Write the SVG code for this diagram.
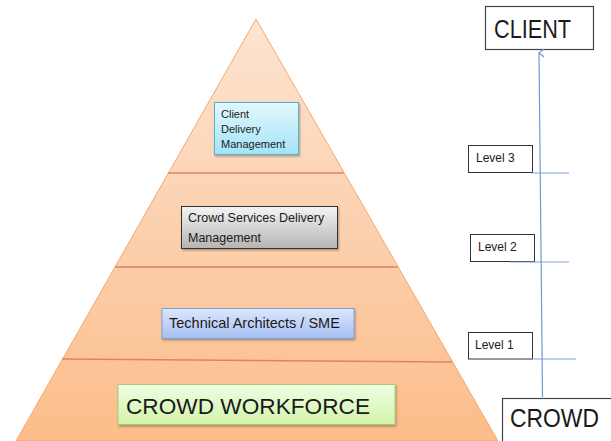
<svg xmlns="http://www.w3.org/2000/svg" width="611" height="441" viewBox="0 0 611 441">
<defs>
<linearGradient id="gPyr" x1="0" y1="0" x2="0" y2="1">
<stop offset="0" stop-color="#fde4d2"/>
<stop offset="0.5" stop-color="#fcd0ae"/>
<stop offset="1" stop-color="#fbbd8a"/>
</linearGradient>
<linearGradient id="gCyan" x1="0" y1="0" x2="0" y2="1">
<stop offset="0" stop-color="#e3f7fd"/>
<stop offset="1" stop-color="#a3e4f7"/>
</linearGradient>
<linearGradient id="gGray" x1="0" y1="0" x2="0" y2="1">
<stop offset="0" stop-color="#f4f4f4"/>
<stop offset="1" stop-color="#b5b5b5"/>
</linearGradient>
<linearGradient id="gBlue" x1="0" y1="0" x2="0" y2="1">
<stop offset="0" stop-color="#dde7fb"/>
<stop offset="1" stop-color="#a6c0f4"/>
</linearGradient>
<linearGradient id="gGreen" x1="0" y1="0" x2="0" y2="1">
<stop offset="0" stop-color="#f0fde4"/>
<stop offset="1" stop-color="#d2f4ab"/>
</linearGradient>
<filter id="sh" x="-10%" y="-10%" width="130%" height="140%">
<feDropShadow dx="1" dy="1.5" stdDeviation="1" flood-color="#000" flood-opacity="0.3"/>
</filter>
<marker id="arr" viewBox="0 0 10 10" refX="5" refY="1" markerWidth="10" markerHeight="10" markerUnits="userSpaceOnUse" orient="auto-start-reverse">
<path d="M1,6 L5,1 L9,6" fill="none" stroke="#6f9bd6" stroke-width="1.2"/>
</marker>
</defs>
<style>
text{font-family:"Liberation Sans",Arial,sans-serif;fill:#1a1a1a}
.div{stroke:#e0806c;stroke-width:1.3}
.lvl{fill:#fff;stroke:#333;stroke-width:1}
.tick{stroke:#7aa3da;stroke-width:1.2}
.big{fill:#fff;stroke:#444;stroke-width:1.2}
.lt{font-size:12px}
</style>
<g id="pyramid">
<polygon points="256,19 16,441 498,441" fill="url(#gPyr)" stroke="#f4a86e" stroke-width="1"/>
<line class="div" x1="168" y1="173" x2="344" y2="173"/>
<line class="div" x1="115" y1="267" x2="398" y2="267"/>
<line class="div" x1="62" y1="359" x2="452" y2="362"/>
</g>
<g id="client-delivery">
<rect x="214.5" y="102.5" width="84" height="52" fill="url(#gCyan)" stroke="#52b3cc" stroke-width="1" filter="url(#sh)"/>
<text x="221" y="118" font-size="11">Client</text>
<text x="221" y="133" font-size="11">Delivery</text>
<text x="221" y="148" font-size="11">Management</text>
</g>
<g id="crowd-services">
<rect x="181.5" y="206.5" width="156" height="42" fill="url(#gGray)" stroke="#333" stroke-width="1" filter="url(#sh)"/>
<text x="188" y="222" font-size="12.5">Crowd Services Delivery</text>
<text x="188" y="241.5" font-size="12.5">Management</text>
</g>
<g id="tech-architects">
<rect x="162" y="308.5" width="192" height="30" fill="url(#gBlue)" stroke="#7d9fdc" stroke-width="1" filter="url(#sh)"/>
<text x="169" y="327.5" font-size="14.5">Technical Architects / SME</text>
</g>
<g id="crowd-workforce">
<rect x="118" y="384.5" width="277" height="40" fill="url(#gGreen)" stroke="#a0d070" stroke-width="1" filter="url(#sh)"/>
<text x="126" y="414" font-size="22.5" textLength="244" lengthAdjust="spacingAndGlyphs">CROWD WORKFORCE</text>
</g>
<g id="client">
<rect class="big" x="485.5" y="6.5" width="108" height="43"/>
<text x="494" y="37.5" font-size="26" textLength="77" lengthAdjust="spacingAndGlyphs">CLIENT</text>
</g>
<g id="crowd">
<rect class="big" x="502.5" y="398.5" width="112" height="50"/>
<text x="510" y="427" font-size="25" textLength="89" lengthAdjust="spacingAndGlyphs">CROWD</text>
</g>
<g id="level3">
<rect class="lvl" x="468.5" y="145.5" width="64" height="27"/>
<text class="lt" x="476" y="162">Level 3</text>
</g>
<g id="level2">
<rect class="lvl" x="470.5" y="234.5" width="64" height="27"/>
<text class="lt" x="478" y="251">Level 2</text>
</g>
<g id="level1">
<rect class="lvl" x="468.5" y="332.5" width="64" height="26.5"/>
<text class="lt" x="475" y="348.5">Level 1</text>
</g>
<g id="connectors">
<line x1="542.5" y1="397" x2="539" y2="53" stroke="#6f9bd6" stroke-width="1.2" marker-end="url(#arr)"/>
<line class="tick" x1="532" y1="173" x2="569" y2="173"/>
<line class="tick" x1="510" y1="262" x2="569" y2="262"/>
<line class="tick" x1="532" y1="359" x2="576" y2="359"/>
</g>
</svg>
